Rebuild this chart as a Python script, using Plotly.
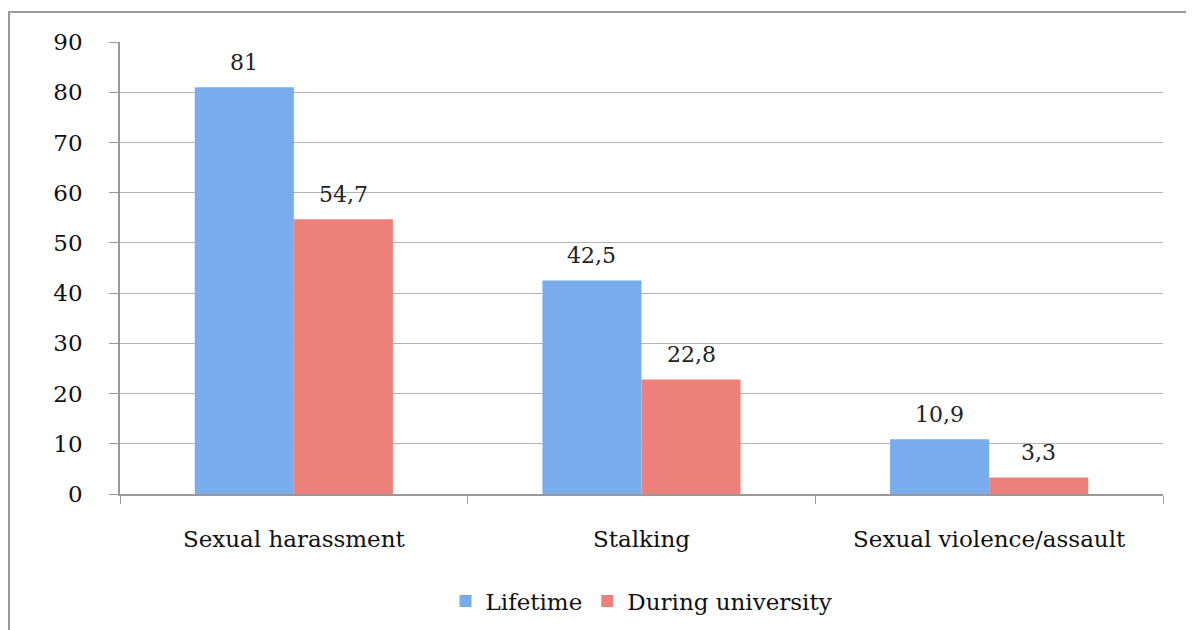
import plotly.graph_objects as go

categories = ["Sexual harassment", "Stalking", "Sexual violence/assault"]
lifetime = [81, 42.5, 10.9]
during_university = [54.7, 22.8, 3.3]
series_names = ["Lifetime", "During university"]
y_ticks = [0, 10, 20, 30, 40, 50, 60, 70, 80, 90]

FONT = "DejaVu Serif"
OFF = 8  # page body margin
W, H = 1194 - OFF, 630 - OFF
L, T = 120 - OFF, 42 - OFF
pw, ph = 1163 - 120, 494 - 42
R, B = W - L - pw, H - T - ph

BAR_PX = pw / len(categories) * (1 - 0.43) / 2

fig = go.Figure()
fig.add_trace(go.Bar(
    x=categories, y=lifetime, name=series_names[0],
    marker=dict(color="#79acec", line=dict(width=0)),
))
fig.add_trace(go.Bar(
    x=categories, y=during_university, name=series_names[1],
    marker=dict(color="#ec807b", line=dict(width=0)),
))

annotations = []
for vals, sign in ((lifetime, -1), (during_university, 1)):
    for c, v in zip(categories, vals):
        annotations.append(dict(
            x=c, y=v, xref="x", yref="y", text=f"{v:g}".replace(".", ","),
            showarrow=False, xshift=sign * BAR_PX / 2, yshift=25, yanchor="middle",
            font=dict(family=FONT, size=22, color="#222"),
        ))

fig.update_layout(
    width=W, height=H,
    margin=dict(l=L, r=R, t=T, b=B, autoexpand=False),
    paper_bgcolor="white", plot_bgcolor="white",
    barmode="group", bargap=0.43, bargroupgap=0,
    font=dict(family=FONT, size=20, color="#111"),
    showlegend=True,
    legend=dict(orientation="h", x=0.5, xanchor="center", y=(494 - 601) / ph,
                yanchor="middle", font=dict(family=FONT, size=23, color="#111"),
                tracegroupgap=0),
    xaxis=dict(
        tickson="boundaries", ticks="outside", ticklen=8, tickcolor="#999",
        showline=True, linecolor="#999", linewidth=1.5,
        showgrid=False, ticklabelstandoff=24, automargin=False,
        tickfont=dict(family=FONT, size=23, color="#111"),
    ),
    yaxis=dict(
        range=[0, 90], tickvals=y_ticks, ticks="outside", ticklen=9, tickcolor="#999",
        showline=True, linecolor="#999", linewidth=1.5,
        showgrid=True, gridcolor="#b4b4b4", gridwidth=1.2,
        zeroline=False, ticklabelstandoff=22, automargin=False,
        tickfont=dict(family=FONT, size=23, color="#111"),
    ),
    annotations=annotations,
    shapes=[dict(
        type="rect", xref="paper", yref="paper",
        x0=-L / pw + 1 / pw, x1=1.1, y0=-0.4, y1=1 + (T - 4) / ph,
        line=dict(color="#9a9a9a", width=2), fillcolor="rgba(0,0,0,0)", layer="below",
    )],
)

fig.write_html("out.html")
